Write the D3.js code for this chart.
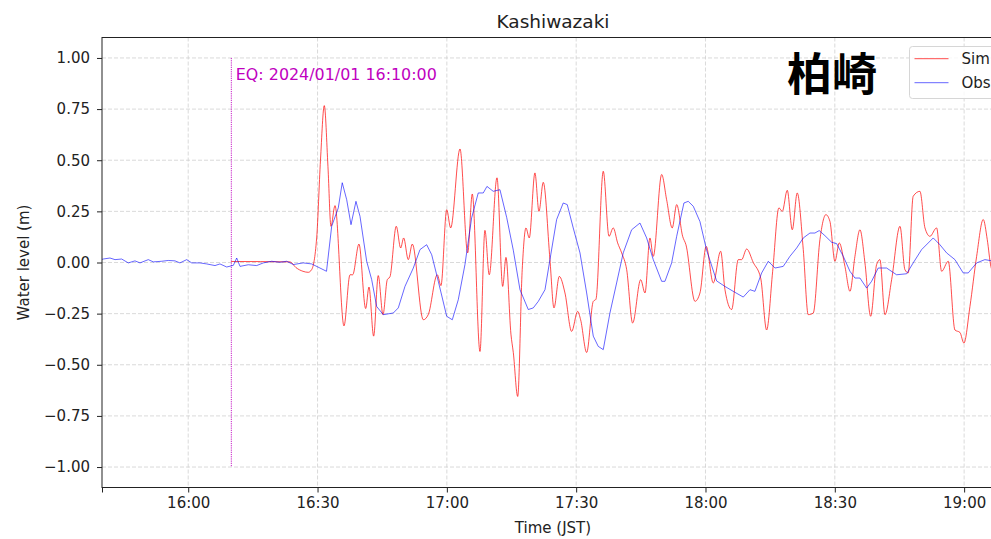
<!DOCTYPE html>
<html>
<head>
<meta charset="utf-8">
<script src="https://cdn.jsdelivr.net/npm/d3@7"></script>
<style>
  body { margin: 0; overflow: hidden; background: #fff; }
  text { font-family: "DejaVu Sans", sans-serif; fill: #222; }
</style>
</head>
<body>
<div id="chart"></div>
<script>
// simulated water level (m), starts at the earthquake time
var simTime = ["16:10:00","16:23:37","16:25:00","16:26:37","16:27:51","16:28:38","16:29:48","16:30:41","16:31:34","16:32:25","16:33:07","16:34:03","16:36:08","16:37:32","16:38:09","16:39:37","16:41:10","16:41:56","16:43:01","16:44:05","16:45:11","16:46:11","16:46:48","16:48:16","16:49:17","16:49:59","16:51:03","16:51:59","16:54:32","16:55:41","16:57:47","16:58:38","16:59:58","17:00:53","17:03:03","17:04:50","17:05:54","17:07:41","17:08:50","17:09:50","17:11:38","17:12:57","17:13:43","17:14:52","17:15:25","17:16:26","17:17:29","17:18:21","17:19:07","17:20:26","17:21:22","17:22:22","17:23:55","17:24:51","17:26:05","17:27:24","17:28:57","17:30:21","17:31:02","17:32:26","17:33:58","17:34:35","17:36:17","17:37:37","17:38:36","17:39:37","17:40:33","17:41:43","17:43:06","17:44:58","17:45:58","17:47:07","17:47:53","17:49:50","17:50:59","17:52:17","17:53:19","17:54:42","17:55:28","17:57:34","17:58:43","18:00:10","18:01:48","18:03:31","18:04:31","18:06:04","18:07:36","18:08:23","18:09:33","18:11:05","18:12:48","18:14:11","18:15:35","18:17:02","18:17:49","18:18:58","18:20:08","18:21:17","18:22:41","18:23:50","18:25:00","18:26:33","18:27:56","18:28:52","18:30:02","18:31:02","18:32:21","18:33:31","18:34:40","18:35:50","18:36:59","18:38:19","18:39:42","18:40:28","18:41:38","18:43:11","18:45:07","18:46:16","18:47:02","18:48:11","18:49:45","18:50:55","18:52:04","18:53:37","18:54:47","18:56:19","18:57:52","18:59:02","18:59:57","19:01:21","19:02:54","19:04:26","19:05:22","19:06:13","19:08:00"];
var simLevel = [0.005,0.003,-0.025,-0.043,-0.048,-0.035,0.12,0.5,0.767,0.47,0.177,0.278,-0.31,-0.06,-0.06,0.09,-0.225,-0.12,-0.36,-0.064,-0.255,-0.084,-0.07,0.177,0.071,0.12,0.014,0.09,-0.28,-0.255,-0.06,-0.113,0.258,0.169,0.555,0.047,0.335,-0.435,0.157,-0.06,0.414,-0.117,0.025,-0.35,-0.44,-0.655,-0.035,0.169,0.12,0.438,0.25,0.392,0.014,-0.222,-0.068,-0.149,-0.337,-0.239,-0.28,-0.44,-0.19,-0.18,0.446,0.128,0.169,0.096,0.047,-0.035,-0.296,-0.084,-0.149,0.12,0.03,0.43,0.307,0.169,0.283,0.128,0.087,-0.19,-0.149,0.079,-0.1,0.055,-0.133,-0.23,0.014,0.014,0.066,0.0,-0.076,-0.33,-0.043,0.267,0.25,0.353,0.16,0.34,0.063,-0.255,-0.247,0.112,0.234,0.201,0.006,0.096,-0.019,-0.141,0.03,0.16,0.0,-0.263,-0.01,0.014,-0.255,-0.084,0.177,-0.035,-0.051,0.324,0.348,0.169,0.128,0.169,-0.043,0.006,-0.33,-0.342,-0.394,-0.215,0.03,0.21,0.112,-0.02,-0.1];

// observed water level (m)
var obsTime = ["15:40:00","15:40:18","15:41:51","15:43:01","15:44:34","15:46:06","15:47:39","15:48:49","15:50:44","15:51:54","15:53:51","15:55:23","15:56:56","15:58:05","15:59:39","16:00:49","16:02:44","16:04:17","16:06:13","16:07:22","16:08:56","16:10:28","16:11:15","16:12:01","16:13:56","16:15:53","16:17:25","16:19:22","16:21:17","16:22:50","16:24:23","16:26:41","16:28:38","16:30:34","16:32:05","16:33:17","16:34:49","16:35:44","16:36:46","16:37:46","16:38:55","16:39:51","16:41:24","16:42:34","16:43:43","16:45:15","16:47:34","16:48:44","16:50:17","16:52:13","16:53:46","16:55:19","16:56:29","16:58:01","16:59:58","17:01:16","17:02:39","17:04:12","17:05:45","17:07:17","17:08:27","17:09:18","17:10:46","17:12:19","17:13:53","17:15:25","17:16:58","17:18:53","17:20:03","17:21:13","17:22:46","17:23:55","17:25:28","17:27:00","17:27:56","17:29:19","17:30:53","17:32:26","17:33:58","17:35:07","17:36:17","17:37:50","17:39:23","17:40:55","17:42:52","17:44:48","17:46:21","17:47:53","17:49:50","17:50:36","17:52:09","17:53:19","17:55:00","17:56:00","17:57:10","17:58:43","18:00:16","18:02:35","18:04:31","18:06:26","18:08:46","18:10:19","18:11:28","18:13:02","18:14:34","18:16:07","18:18:02","18:19:35","18:21:09","18:22:41","18:24:14","18:25:23","18:26:23","18:27:43","18:29:16","18:30:26","18:31:58","18:33:31","18:34:40","18:35:50","18:37:23","18:38:32","18:40:04","18:42:01","18:44:20","18:46:40","18:48:11","18:50:08","18:52:50","18:54:23","18:55:56","18:57:52","18:59:47","19:00:57","19:02:54","19:04:49","19:06:13","19:08:00"];
var obsLevel = [0.015,0.017,0.022,0.014,0.017,-0.002,0.008,-0.002,0.014,0.003,0.006,0.01,0.008,-0.002,0.014,-0.002,-0.002,-0.007,-0.015,-0.007,-0.022,-0.014,0.022,-0.019,-0.011,-0.015,-0.002,0.006,0.001,0.006,-0.01,-0.002,-0.007,-0.027,-0.043,0.177,0.267,0.39,0.307,0.185,0.299,0.226,0.006,-0.084,-0.215,-0.255,-0.247,-0.222,-0.117,-0.027,0.063,0.087,0.038,-0.092,-0.263,-0.28,-0.182,-0.01,0.218,0.34,0.34,0.372,0.348,0.356,0.22,0.06,-0.133,-0.23,-0.222,-0.19,-0.133,0.014,0.21,0.291,0.283,0.169,0.047,-0.149,-0.36,-0.41,-0.426,-0.247,-0.1,0.047,0.16,0.193,0.12,0.014,-0.092,-0.092,-0.002,0.128,0.291,0.299,0.275,0.2,0.06,-0.09,-0.117,-0.141,-0.169,-0.133,-0.141,-0.051,0.006,-0.027,-0.019,0.03,0.071,0.12,0.144,0.144,0.156,0.131,0.099,0.092,0.03,-0.043,-0.076,-0.076,-0.125,-0.092,-0.027,-0.027,-0.06,-0.055,-0.002,0.063,0.12,0.087,0.047,0.014,-0.051,-0.051,-0.002,0.014,0.009,0.0];

var xTicks = ["15:40:00","16:00:00","16:30:00","17:00:00","17:30:00","18:00:00","18:30:00","19:00:00"];
var yTicks = [-1.0,-0.75,-0.5,-0.25,0.0,0.25,0.5,0.75,1.0];
var timeRange = ["15:40:00","19:09:15"];
var eqTime = "16:10:00";
var eqLabel = "EQ: 2024/01/01 16:10:00";

(function chart() {
  var width = 1010, height = 539;
  var margin = {top: 37.5, right: 6, bottom: 51.5, left: 102};

  var parse = d3.timeParse("%Y-%m-%d %H:%M:%S");
  var t = function(s) { return parse("2024-01-01 " + s); };

  var sim = simTime.map(function(d, i) { return {time: t(d), level: simLevel[i]}; });
  var obs = obsTime.map(function(d, i) { return {time: t(d), level: obsLevel[i]}; });

  var svg = d3.select("#chart").append("svg")
    .attr("width", width)
    .attr("height", height);

  var x = d3.scaleTime()
    .domain(timeRange.map(t))
    .range([margin.left, width - margin.right]);

  var y = d3.scaleLinear()
    .domain([-1.1, 1.1])
    .range([height - margin.bottom, margin.top]);

  svg.append("defs").append("clipPath").attr("id", "clip")
    .append("rect")
    .attr("x", margin.left).attr("y", margin.top)
    .attr("width", width - margin.left - margin.right)
    .attr("height", height - margin.top - margin.bottom);

  // dashed grid
  var grid = svg.append("g").attr("stroke", "#d0d0d0").attr("stroke-width", 0.8)
    .attr("stroke-dasharray", "4,2");
  grid.selectAll(".gx").data(xTicks.slice(1)).enter().append("line")
    .attr("x1", function(d) { return x(t(d)); })
    .attr("x2", function(d) { return x(t(d)); })
    .attr("y1", margin.top).attr("y2", height - margin.bottom);
  grid.selectAll(".gy").data(yTicks).enter().append("line")
    .attr("x1", margin.left).attr("x2", width - margin.right)
    .attr("y1", function(d) { return y(d); })
    .attr("y2", function(d) { return y(d); });

  // earthquake marker
  svg.append("line")
    .attr("x1", x(t(eqTime))).attr("x2", x(t(eqTime)))
    .attr("y1", y(1)).attr("y2", y(-1))
    .attr("stroke", "#bf00bf").attr("stroke-width", 0.9)
    .attr("stroke-dasharray", "1.2,1");
  svg.append("text")
    .attr("x", x(t(eqTime)) + 4.5).attr("y", y(1) + 22)
    .style("font-size", "15.9px").style("fill", "#bf00bf")
    .text(eqLabel);

  var line = d3.line()
    .x(function(d) { return x(d.time); })
    .y(function(d) { return y(d.level); });

  var plot = svg.append("g").attr("clip-path", "url(#clip)");
  plot.append("path").datum(sim)
    .attr("fill", "none").attr("stroke", "red").attr("stroke-opacity", 0.7)
    .attr("stroke-width", 1)
    .attr("d", line.curve(d3.curveMonotoneX));
  plot.append("path").datum(obs)
    .attr("fill", "none").attr("stroke", "blue").attr("stroke-opacity", 0.6)
    .attr("stroke-width", 1)
    .attr("d", line.curve(d3.curveLinear));

  // axes
  var xAxis = d3.axisBottom(x)
    .tickValues(xTicks.map(t))
    .tickFormat(function(d, i) { return i === 0 ? "" : d3.timeFormat("%H:%M")(d); })
    .tickSize(5).tickSizeOuter(0).tickPadding(5);
  var gx = svg.append("g")
    .attr("transform", "translate(0," + (height - margin.bottom) + ")")
    .call(xAxis);

  var yAxis = d3.axisLeft(y)
    .tickValues(yTicks)
    .tickFormat(d3.format(".2f"))
    .tickSize(5).tickSizeOuter(0).tickPadding(7);
  var gy = svg.append("g")
    .attr("transform", "translate(" + margin.left + ",0)")
    .call(yAxis);

  [gx, gy].forEach(function(g) {
    g.select(".domain").remove();
    g.selectAll("text").style("font-size", "15px").style("font-family", "DejaVu Sans").attr("fill", "#222");
    g.selectAll("line").attr("stroke", "#222");
  });

  // frame
  svg.append("rect")
    .attr("x", margin.left).attr("y", margin.top)
    .attr("width", width - margin.left - margin.right)
    .attr("height", height - margin.top - margin.bottom)
    .attr("fill", "none").attr("stroke", "#222").attr("stroke-width", 1);

  // titles
  svg.append("text")
    .attr("x", 553).attr("y", 28)
    .attr("text-anchor", "middle")
    .style("font-size", "18.5px")
    .text("Kashiwazaki");
  svg.append("text")
    .attr("x", 553).attr("y", 533)
    .attr("text-anchor", "middle")
    .style("font-size", "15px")
    .text("Time (JST)");
  svg.append("text")
    .attr("transform", "translate(29," + ((margin.top + height - margin.bottom) / 2) + ") rotate(-90)")
    .attr("text-anchor", "middle")
    .style("font-size", "15px")
    .text("Water level (m)");

  // station name in Japanese
  svg.append("text")
    .attr("x", 832).attr("y", 91)
    .attr("text-anchor", "middle")
    .style("font-family", "'Noto Sans CJK JP', sans-serif")
    .style("font-weight", 700)
    .style("font-size", "45px")
    .style("fill", "#000")
    .text("柏崎");

  // legend
  var legendItems = [
    {name: "Sim", color: "red", opacity: 0.7},
    {name: "Obs", color: "blue", opacity: 0.6}
  ];
  var legend = svg.append("g").attr("transform", "translate(909.5,46.5)");
  legend.append("rect")
    .attr("width", 100).attr("height", 52)
    .attr("rx", 3)
    .attr("fill", "#fff").attr("fill-opacity", 0.8)
    .attr("stroke", "#d6d6d6");
  var li = legend.selectAll(".item").data(legendItems).enter().append("g")
    .attr("transform", function(d, i) { return "translate(0," + (12.2 + i * 24) + ")"; });
  li.append("line")
    .attr("x1", 5).attr("x2", 39)
    .attr("stroke", function(d) { return d.color; })
    .attr("stroke-opacity", function(d) { return d.opacity; });
  li.append("text")
    .attr("x", 52).attr("dy", "0.35em")
    .style("font-size", "15px")
    .text(function(d) { return d.name; });
})();
</script>
</body>
</html>
